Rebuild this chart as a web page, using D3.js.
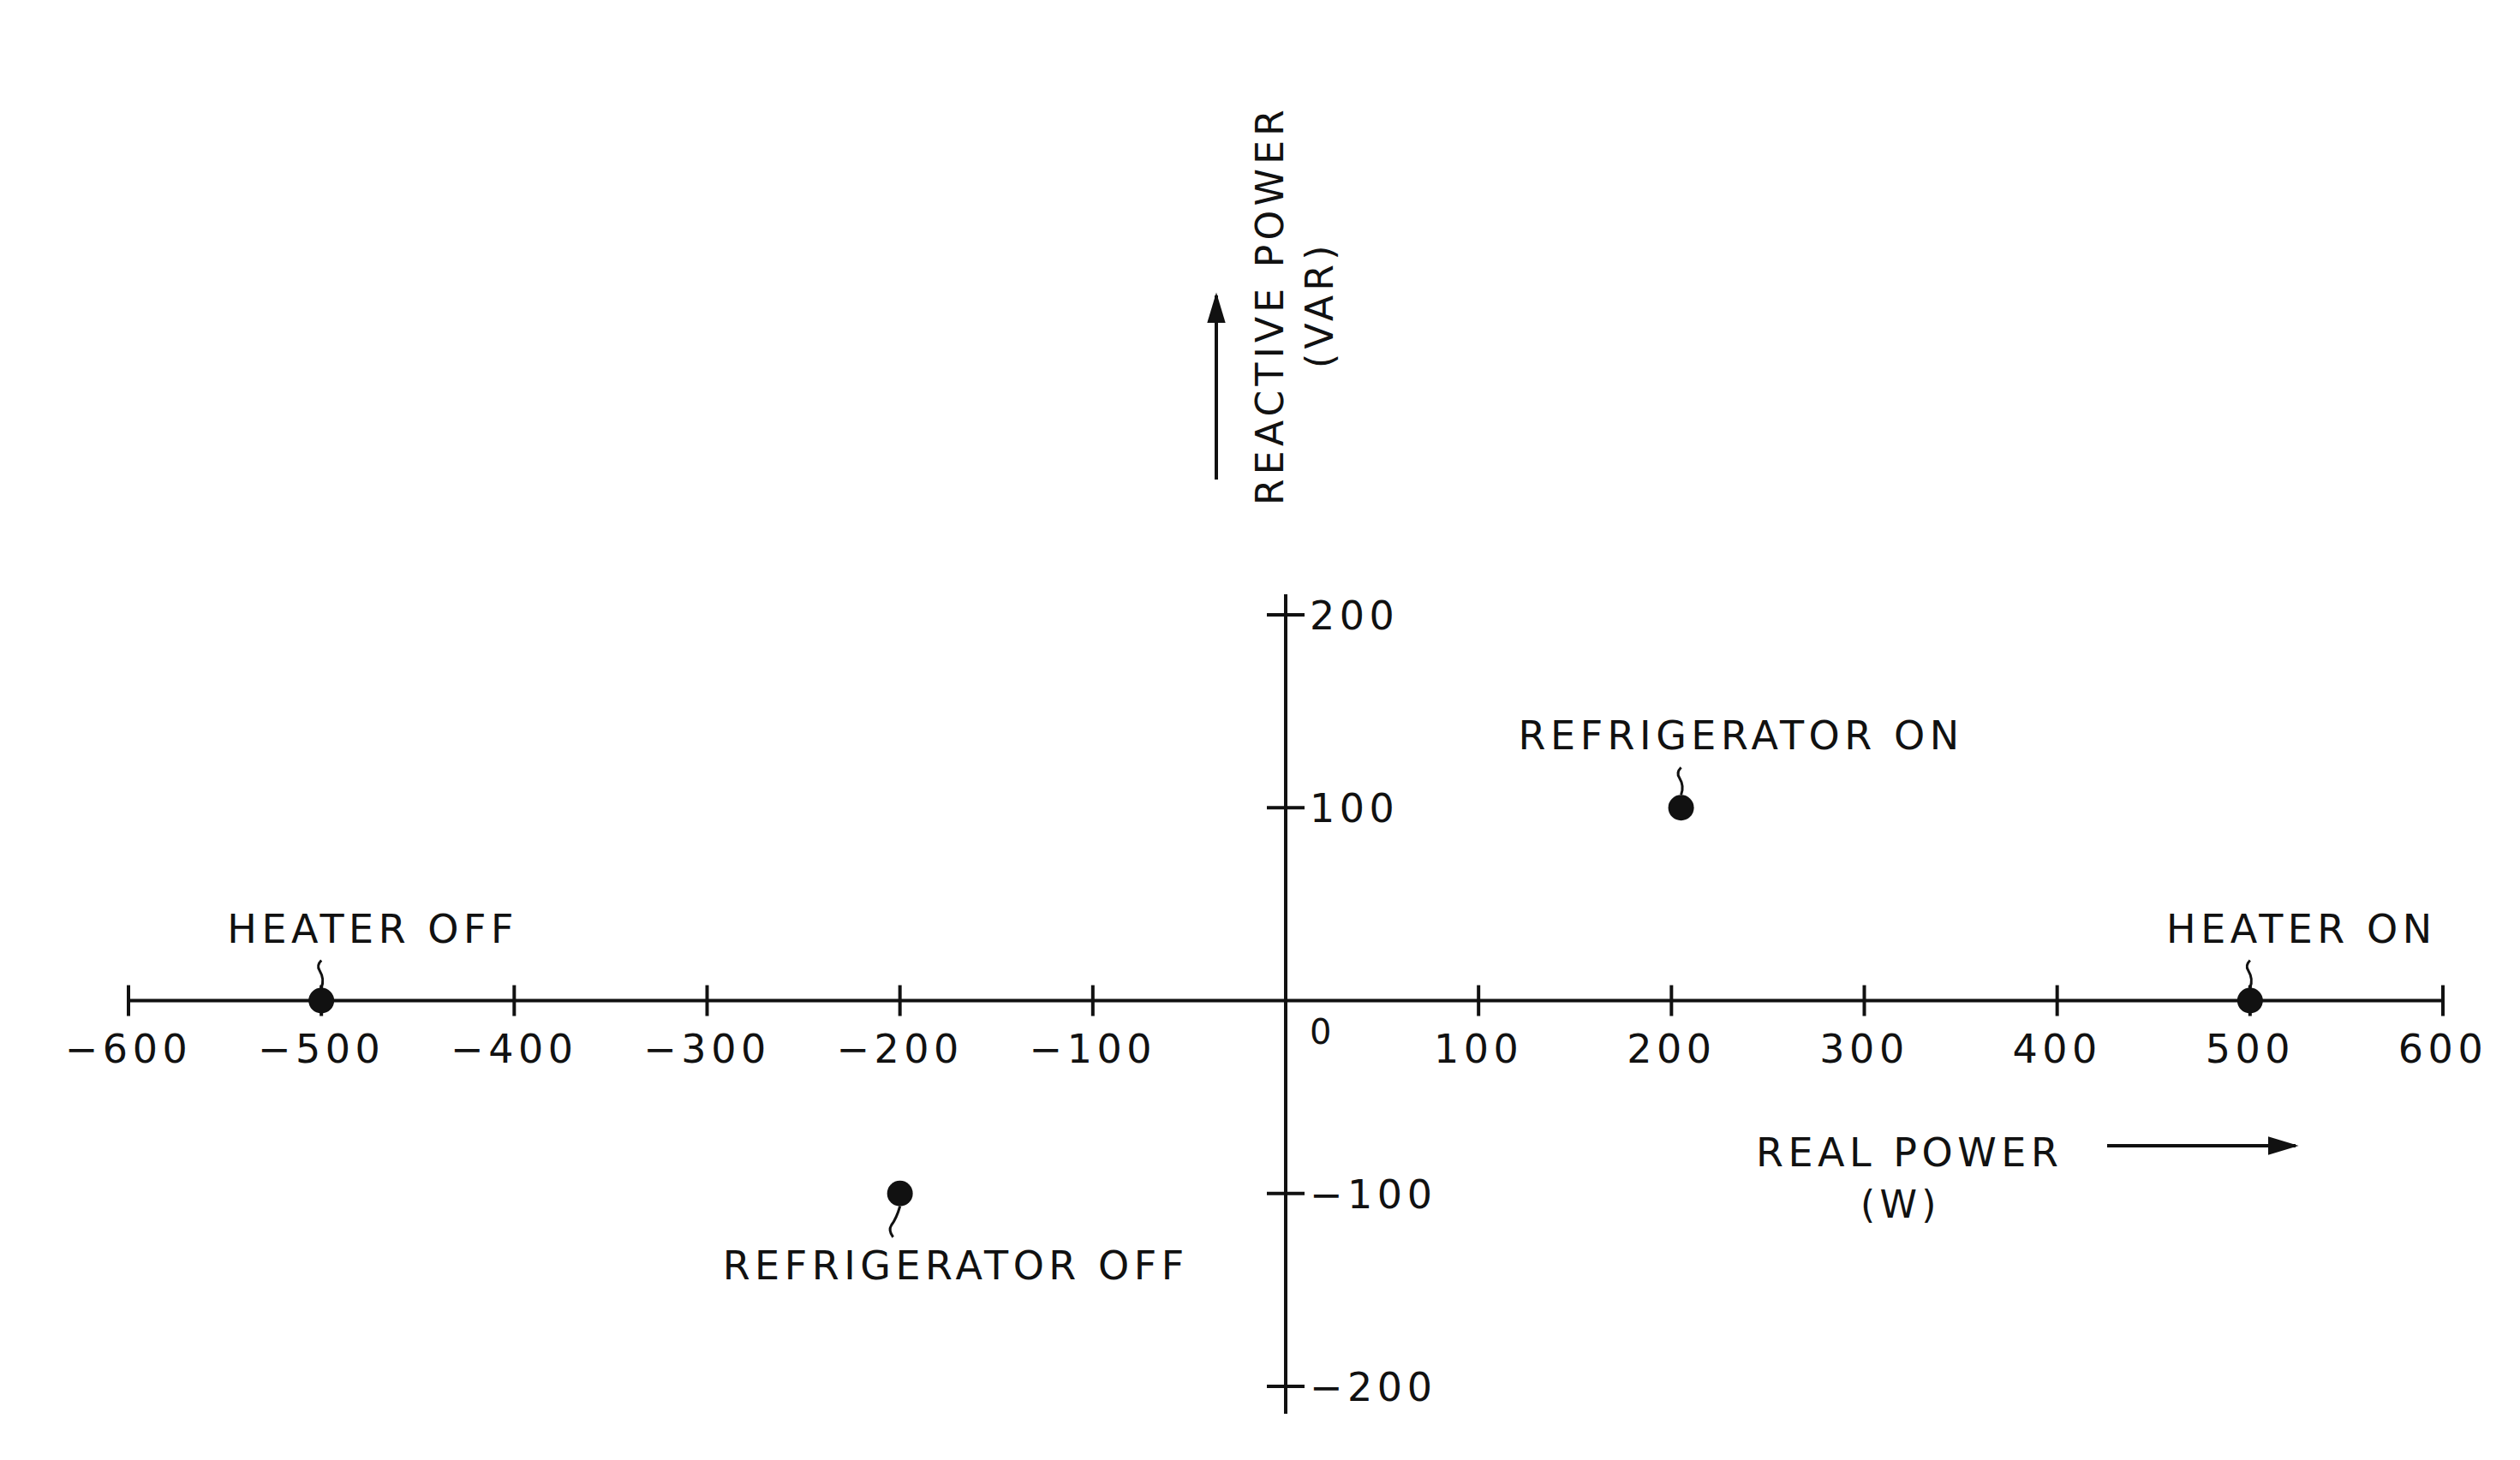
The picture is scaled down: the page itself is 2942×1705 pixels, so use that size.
<!DOCTYPE html>
<html><head><meta charset="utf-8">
<script src="https://cdn.jsdelivr.net/npm/d3@7"></script>
<style>
body{margin:0;background:#fff}
text{font-family:"DejaVu Sans",sans-serif;fill:#111;letter-spacing:0.12em}
</style></head>
<body><svg id="c" width="2942" height="1705"></svg>
<script>
// real power (W) vs reactive power (VAR) per appliance switching event
const xTicks = [-600, -500, -400, -300, -200, -100, 100, 200, 300, 400, 500, 600];
const yTicks = [200, 100, -100, -200];
const names = ["HEATER OFF", "HEATER ON", "REFRIGERATOR ON", "REFRIGERATOR OFF"];
const realW = [-500, 500, 205, -200];
const reactVar = [0, 0, 100, -100];

const svg = d3.select("#c");
const ink = "#111";
const x = d3.scaleLinear().domain([-600, 600]).range([150, 2852]);
const y = d3.scaleLinear().domain([-200, 200]).range([1619, 718]);

// axes
svg.append("line").attr("x1", x(-600)).attr("x2", x(600)).attr("y1", y(0)).attr("y2", y(0))
  .attr("stroke", ink).attr("stroke-width", 4);
svg.append("line").attr("x1", x(0)).attr("x2", x(0)).attr("y1", 694).attr("y2", 1651)
  .attr("stroke", ink).attr("stroke-width", 4);

svg.selectAll("line.xt").data(xTicks).join("line").attr("class", "xt")
  .attr("x1", d => x(d)).attr("x2", d => x(d)).attr("y1", y(0) - 18).attr("y2", y(0) + 18)
  .attr("stroke", ink).attr("stroke-width", 4);
svg.selectAll("text.xl").data(xTicks).join("text").attr("class", "xl")
  .attr("x", d => x(d)).attr("y", y(0) + 72).attr("text-anchor", "middle")
  .attr("font-size", 46).text(d => d < 0 ? "\u2212" + (-d) : d);
svg.append("text").attr("x", x(0) + 28).attr("y", y(0) + 50).attr("font-size", 40).text("0");

svg.selectAll("line.yt").data(yTicks).join("line").attr("class", "yt")
  .attr("x1", x(0) - 22).attr("x2", x(0) + 22).attr("y1", d => y(d)).attr("y2", d => y(d))
  .attr("stroke", ink).attr("stroke-width", 4);
svg.selectAll("text.yl").data(yTicks).join("text").attr("class", "yl")
  .attr("x", x(0) + 28).attr("y", d => y(d) + 17)
  .attr("font-size", 46).text(d => d < 0 ? "\u2212" + (-d) : d);

// axis titles with arrows
const defs = svg.append("defs");
defs.append("marker").attr("id", "ah").attr("viewBox", "0 0 10 10").attr("refX", 9).attr("refY", 5)
  .attr("markerWidth", 9).attr("markerHeight", 9).attr("orient", "auto")
  .append("path").attr("d", "M0,2 L10,5 L0,8 Z").attr("fill", ink);

svg.append("line").attr("x1", 1420).attr("x2", 1420).attr("y1", 560).attr("y2", 345)
  .attr("stroke", ink).attr("stroke-width", 4).attr("marker-end", "url(#ah)");
svg.append("text").attr("transform", "translate(1498,590) rotate(-90)").attr("font-size", 44)
  .text("REACTIVE POWER");
svg.append("text").attr("transform", "translate(1556,430) rotate(-90)").attr("font-size", 44)
  .text("(VAR)");

svg.append("text").attr("x", 2050).attr("y", 1362).attr("font-size", 46).text("REAL POWER");
svg.append("text").attr("x", 2172).attr("y", 1422).attr("font-size", 44).text("(W)");
svg.append("line").attr("x1", 2460).attr("x2", 2680).attr("y1", 1338).attr("y2", 1338)
  .attr("stroke", ink).attr("stroke-width", 4).attr("marker-end", "url(#ah)");

// points + labels
const pts = names.map((n, i) => ({ name: n, px: x(realW[i]), py: y(reactVar[i]), below: reactVar[i] < 0 }));
svg.selectAll("circle.pt").data(pts).join("circle").attr("class", "pt")
  .attr("cx", d => d.px).attr("cy", d => d.py).attr("r", 15).attr("fill", ink);
svg.selectAll("path.ld").data(pts).join("path").attr("class", "ld")
  .attr("d", d => d.below
    ? `M${d.px},${d.py + 15} q-4,14 -10,22 q-4,6 2,14`
    : `M${d.px},${d.py - 15} q4,-10 -2,-20 q-4,-6 2,-12`)
  .attr("fill", "none").attr("stroke", ink).attr("stroke-width", 3);
svg.selectAll("text.pl").data(pts).join("text").attr("class", "pl")
  .attr("x", d => d.px + (d.below ? 65 : d.name === "REFRIGERATOR ON" ? 70 : 60))
  .attr("y", d => d.below ? d.py + 100 : d.py - 68)
  .attr("text-anchor", "middle").attr("font-size", 46).text(d => d.name);
</script></body></html>
